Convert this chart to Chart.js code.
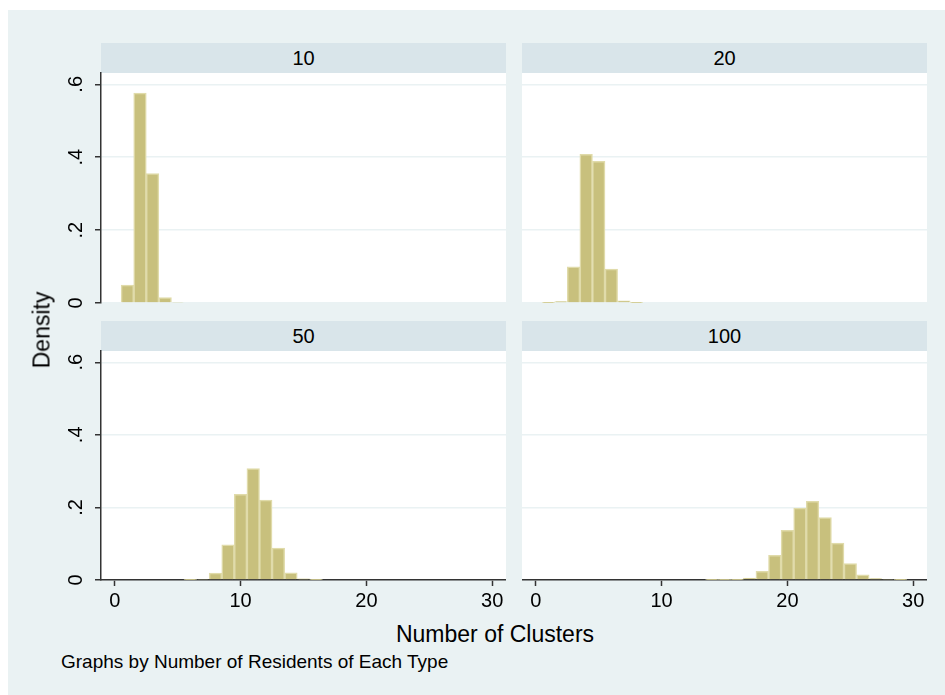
<!DOCTYPE html>
<html>
<head>
<meta charset="utf-8">
<script src="https://cdn.jsdelivr.net/npm/chart.js@4/dist/chart.umd.min.js"></script>
<style>
  body { margin: 0; background: #fff; font-family: "Liberation Sans", Arial, sans-serif; }
  #wrap { position: relative; width: 945px; height: 695px; overflow: hidden; }
  #bg { position: absolute; left: 8px; top: 10px; width: 937px; height: 685px; background: #eaf2f3; }
  .strip { position: absolute; width: 405px; height: 30px; line-height: 30px; background: #d9e5ea;
           text-align: center; font-size: 20px; color: #000; }
  .plot { position: absolute; background: #fff; }
  canvas { position: absolute; }
  .txt { position: absolute; color: #000; white-space: nowrap; }
</style>
</head>
<body>
<div id="wrap">
  <div id="bg"></div>
  <div class="plot" style="left:101px;top:73px;width:405px;height:230px"></div>
  <div class="plot" style="left:522px;top:73px;width:405px;height:230px"></div>
  <div class="plot" style="left:101px;top:351px;width:405px;height:229px"></div>
  <div class="plot" style="left:522px;top:351px;width:405px;height:229px"></div>
  <div class="strip" id="h0" style="left:101px;top:43px"></div>
  <div class="strip" id="h1" style="left:522px;top:43px"></div>
  <div class="strip" id="h2" style="left:101px;top:321px"></div>
  <div class="strip" id="h3" style="left:522px;top:321px"></div>
  <canvas id="c0" width="456" height="250" style="left:50px;top:63px"></canvas>
  <canvas id="c1" width="405" height="250" style="left:522px;top:63px"></canvas>
  <canvas id="c2" width="456" height="279" style="left:50px;top:341px"></canvas>
  <canvas id="c3" width="405" height="279" style="left:522px;top:341px"></canvas>
  <div class="txt" id="ytitle" style="left:42px;top:330px;font-size:23px;transform:translate(-50%,-50%) rotate(-90deg)"></div>
  <div class="txt" id="xtitle" style="left:495px;top:634px;font-size:23px;transform:translate(-50%,-50%)"></div>
  <div class="txt" id="note" style="left:61px;top:662px;font-size:19px;transform:translateY(-50%)"></div>
</div>
<script>
// panel titles (number of residents of each type)
const panelTitles = ['10', '20', '50', '100'];

// histogram bins (number of clusters) and densities
const clusters10 = [1, 2, 3, 4, 5];
const density10 = [0.049, 0.576, 0.355, 0.015, 0.002];

const clusters20 = [1, 2, 3, 4, 5, 6, 7, 8];
const density20 = [0.001, 0.004, 0.099, 0.408, 0.389, 0.093, 0.006, 0.001];

const clusters50 = [6, 7, 8, 9, 10, 11, 12, 13, 14, 15, 16];
const density50 = [0.001, 0.002, 0.019, 0.097, 0.236, 0.307, 0.220, 0.088, 0.020, 0.003, 0.001];

const clusters100 = [14, 15, 16, 17, 18, 19, 20, 21, 22, 23, 24, 25, 26, 27, 28, 29];
const density100 = [0.001, 0.001, 0.001, 0.005, 0.024, 0.068, 0.137, 0.198, 0.217, 0.172, 0.102, 0.045, 0.014, 0.004, 0.002, 0.001];

const yTicks = [0, 0.2, 0.4, 0.6];
const xTicks = [0, 10, 20, 30];

const yTitle = 'Density';
const xTitle = 'Number of Clusters';
const noteText = 'Graphs by Number of Residents of Each Type';

(() => {
  const FONT = '"Liberation Sans", Arial, sans-serif';
  const AXIS = '#333';
  const GRID = '#eaf2f3';
  const BAR = '#c8c07d';
  const BAR_EDGE = '#e0dbaa';

  panelTitles.forEach((t, i) => { document.getElementById('h' + i).textContent = t; });
  document.getElementById('ytitle').textContent = yTitle;
  document.getElementById('xtitle').textContent = xTitle;
  document.getElementById('note').textContent = noteText;

  function yLabel(v) {
    if (v === 0) return '0';
    return String(Math.round(v * 10) / 10).replace(/^0/, '');
  }

  function makePanel(id, clusters, density, showY, showX) {
    const ctx = document.getElementById(id).getContext('2d');
    return new Chart(ctx, {
      type: 'bar',
      data: {
        datasets: [{
          data: clusters.map((c, i) => ({ x: c, y: density[i] })),
          backgroundColor: BAR,
          borderColor: BAR_EDGE,
          borderWidth: 1.5,
          barPercentage: 1,
          categoryPercentage: 1,
          grouped: false
        }]
      },
      options: {
        responsive: false,
        animation: false,
        events: [],
        layout: { padding: { top: 10, bottom: showX ? 0 : 10, left: 0, right: 0 } },
        plugins: { legend: { display: false }, tooltip: { enabled: false } },
        scales: {
          x: {
            type: 'linear',
            min: -1.1,
            max: 31.1,
            offset: false,
            display: showX,
            afterBuildTicks: ax => { ax.ticks = xTicks.map(v => ({ value: v })); },
            afterFit: ax => { ax.height = showX ? 40 : 0; ax.paddingLeft = 0; ax.paddingRight = 0; },
            border: { display: true, color: AXIS, width: 1.5 },
            grid: { offset: false, drawOnChartArea: false, drawTicks: true, tickLength: 6, tickColor: AXIS, tickWidth: 1.5 },
            ticks: { color: '#000', font: { family: FONT, size: 20 }, padding: 3, maxRotation: 0, minRotation: 0 }
          },
          y: {
            min: 0,
            max: 0.631,
            afterBuildTicks: ax => { ax.ticks = yTicks.map(v => ({ value: v })); },
            afterFit: ax => { ax.width = showY ? 51 : 0; ax.paddingTop = 0; ax.paddingBottom = 0; },
            border: { display: showY, color: AXIS, width: 1.5 },
            grid: { color: GRID, lineWidth: 1.5, drawTicks: showY, tickLength: 6, tickColor: AXIS, tickWidth: 1.5 },
            ticks: {
              display: showY,
              color: '#000',
              font: { family: FONT, size: 20 },
              minRotation: 90,
              maxRotation: 90,
              crossAlign: 'center',
              padding: 10,
              callback: v => yLabel(v)
            }
          }
        }
      }
    });
  }

  makePanel('c0', clusters10, density10, true, false);
  makePanel('c1', clusters20, density20, false, false);
  makePanel('c2', clusters50, density50, true, true);
  makePanel('c3', clusters100, density100, false, true);
})();
</script>
</body>
</html>
